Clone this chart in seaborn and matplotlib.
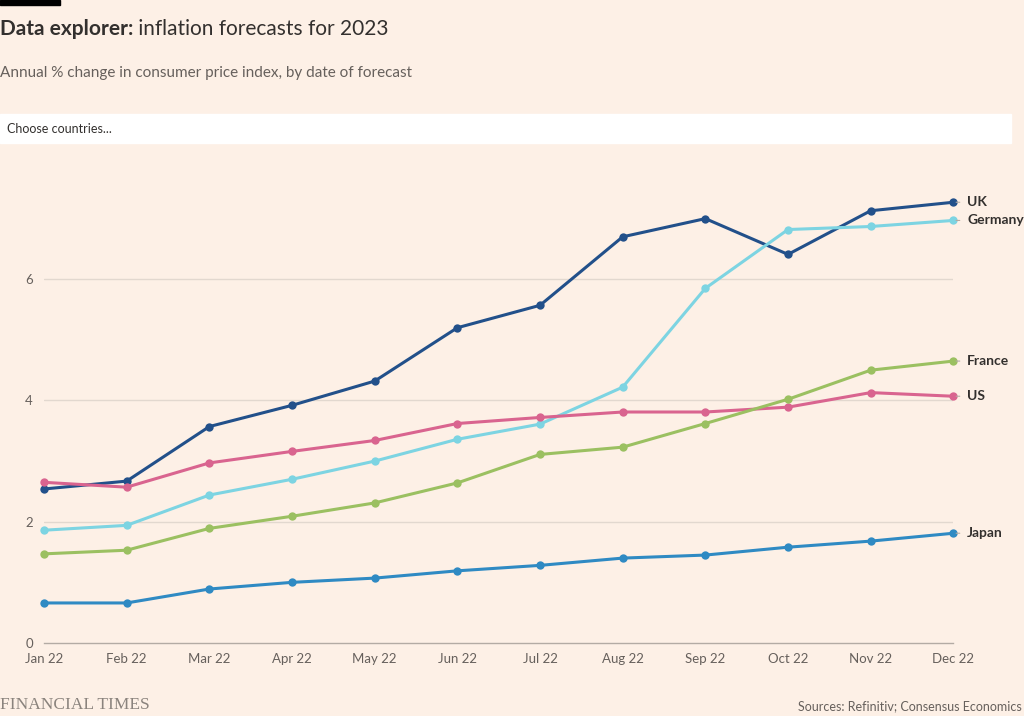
import pandas as pd
import matplotlib.pyplot as plt
import seaborn as sns
from matplotlib.patches import Rectangle

months = ['Jan 22', 'Feb 22', 'Mar 22', 'Apr 22', 'May 22', 'Jun 22',
          'Jul 22', 'Aug 22', 'Sep 22', 'Oct 22', 'Nov 22', 'Dec 22']
uk = [2.54, 2.67, 3.57, 3.92, 4.32, 5.20, 5.57, 6.70, 7.00, 6.41, 7.13, 7.27]
germany = [1.86, 1.94, 2.44, 2.70, 3.00, 3.36, 3.61, 4.22, 5.85, 6.82, 6.87, 6.97]
us = [2.65, 2.57, 2.97, 3.16, 3.34, 3.62, 3.72, 3.81, 3.81, 3.89, 4.13, 4.07]
france = [1.47, 1.53, 1.89, 2.09, 2.31, 2.64, 3.11, 3.23, 3.62, 4.02, 4.50, 4.65]
japan = [0.66, 0.66, 0.89, 1.00, 1.07, 1.19, 1.28, 1.40, 1.45, 1.58, 1.68, 1.81]
countries = ['UK', 'Germany', 'US', 'France', 'Japan']
colours = ['#22508a', '#7dd4e2', '#d9648f', '#9bc061', '#2f8ac3']

bg = '#fdf0e6'
sns.set_theme(style='white')
plt.rcParams['font.family'] = ['Lato', 'DejaVu Sans']

# long format for seaborn
series = [uk, germany, us, france, japan]
df = pd.concat([pd.DataFrame({'month': range(len(months)), 'value': v, 'country': c})
                for c, v in zip(countries, series)])

fig = plt.figure(figsize=(10.24, 7.16), dpi=100, facecolor=bg)
ax = fig.add_axes([0.043, 0.102, 0.888, 0.635])
ax.set_facecolor(bg)

sns.lineplot(data=df, x='month', y='value', hue='country', hue_order=countries,
             palette=colours, marker='o', markersize=6, markeredgewidth=0,
             linewidth=2.2, legend=False, ax=ax, clip_on=False)

ax.set_xlim(0, 11)
ax.set_ylim(0, 7.5)
ax.set_yticks([0, 2, 4, 6])
ax.set_yticklabels(['0', '2', '4', '6'])
ax.set_xticks(range(len(months)))
ax.set_xticklabels(months)
for y in [2, 4, 6]:
    ax.axhline(y, color='#e2d8cf', linewidth=1, zorder=0)
for s in ['top', 'right', 'left']:
    ax.spines[s].set_visible(False)
ax.spines['bottom'].set_color('#b3aba4')
ax.spines['bottom'].set_linewidth(1)
ax.tick_params(axis='x', length=5, width=1, color='#b3aba4', direction='out',
               labelsize=9.5, labelcolor='#66605c', pad=2)
ax.tick_params(axis='y', length=0, labelsize=9.5, labelcolor='#66605c', pad=8)
ax.set_xlabel('')
ax.set_ylabel('')

# end labels
for c, v in zip(countries, series):
    ax.annotate(c, xy=(11, v[-1]), xytext=(10, 0), textcoords='offset points',
                va='center', ha='left', fontsize=10, fontweight='bold', color='#33302e',
                arrowprops=dict(arrowstyle='-', color='#b3aba4', lw=0.8,
                                shrinkA=3, shrinkB=2))

# header
fig.patches.append(Rectangle((0, 0.993), 0.059, 0.007, transform=fig.transFigure,
                             color='#000000'))
t1 = fig.text(0.0, 0.951, 'Data explorer:', fontsize=15, fontweight='bold',
              color='#33302e', va='baseline')
fig.canvas.draw()
ax.annotate(' inflation forecasts for 2023', xy=(1, 0), xycoords=t1,
            fontsize=15, color='#33302e', va='bottom', annotation_clip=False)
fig.text(0.0, 0.893, 'Annual % change in consumer price index, by date of forecast',
         fontsize=11, color='#66605c', va='baseline')
fig.patches.append(Rectangle((0, 0.8), 0.987, 0.041, transform=fig.transFigure,
                             color='white'))
fig.text(0.007, 0.82, 'Choose countries...', fontsize=9, color='#33302e', va='center')

# footer
fig.text(0.0, 0.004, 'FINANCIAL TIMES', fontsize=12.5, color='#8a837d',
         family='Liberation Serif', va='bottom')
fig.text(0.998, 0.006, 'Sources: Refinitiv; Consensus Economics', fontsize=9,
         color='#66605c', ha='right', va='bottom')

fig.savefig('out.png', dpi=100, facecolor=bg)
